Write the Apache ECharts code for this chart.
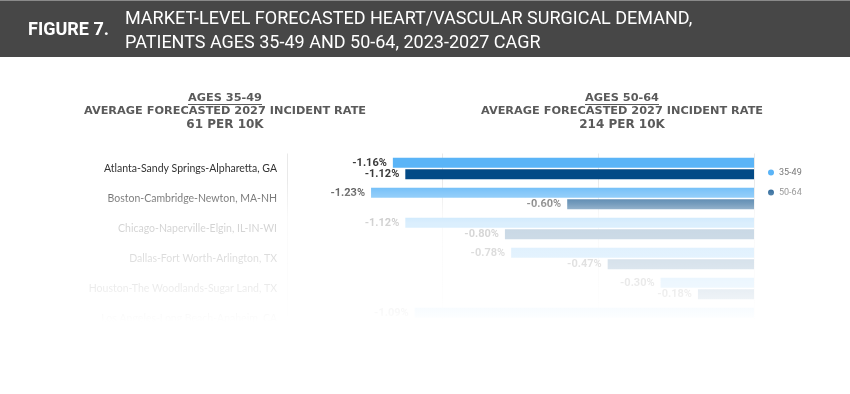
<!DOCTYPE html>
<html>
<head>
<meta charset="utf-8">
<script src="https://cdn.jsdelivr.net/npm/echarts@6/dist/echarts.min.js"></script>
<style>
html,body{margin:0;padding:0;background:#fff;}
#chart{width:850px;height:394px;}
</style>
</head>
<body>
<div id="chart"></div>
<script>
// ---- data ----
const categories = [
  'Atlanta-Sandy Springs-Alpharetta, GA',
  'Boston-Cambridge-Newton, MA-NH',
  'Chicago-Naperville-Elgin, IL-IN-WI',
  'Dallas-Fort Worth-Arlington, TX',
  'Houston-The Woodlands-Sugar Land, TX',
  'Los Angeles-Long Beach-Anaheim, CA'
];
const ages3549 = [-1.16, -1.23, -1.12, -0.78, -0.30, -1.09];
const ages5064 = [-1.12, -0.60, -0.80, -0.47, -0.18, null];
const seriesNames = ['35-49', '50-64'];
const headerLabel = 'FIGURE 7.';
const headerTitle = ['MARKET-LEVEL FORECASTED HEART/VASCULAR SURGICAL DEMAND,', 'PATIENTS AGES 35-49 AND 50-64, 2023-2027 CAGR'];
const panelLeft = ['AGES 35-49', 'AVERAGE FORECASTED 2027 INCIDENT RATE', '61 PER 10K'];
const panelRight = ['AGES 50-64', 'AVERAGE FORECASTED 2027 INCIDENT RATE', '214 PER 10K'];
const xTicks = {min: -1.5, max: 0, interval: 0.5};

const chart = echarts.init(document.getElementById('chart'), null, {renderer: 'canvas'});

function txt(text, x, y, font, fill, align) {
  return {
    type: 'text', z: 50,
    style: {text: text, x: x, y: y, font: font, fill: fill,
            textAlign: align || 'left', align: align || 'left',
            textVerticalAlign: 'middle', verticalAlign: 'middle'}
  };
}

const subFontA = 'bold 11.3px "DejaVu Sans"';
const subFontB = 'bold 11.3px "DejaVu Sans"';
const subFontC = 'bold 12px "DejaVu Sans"';
const subCol = '#5a5a5a';

const graphics = [
  {type: 'rect', z: 40, shape: {x: 0, y: 0, width: 850, height: 57}, style: {fill: '#474747'}},
  {type: 'rect', z: 41, shape: {x: 0, y: 0, width: 850, height: 1}, style: {fill: '#8a8a8a'}},
  txt(headerLabel, 28, 30, 'bold 18px Roboto', '#ffffff'),
  txt(headerTitle[0], 125, 19, '18px Roboto', '#ffffff'),
  txt(headerTitle[1], 125, 43, '18px Roboto', '#ffffff'),
  txt(panelLeft[0], 225, 98, subFontA, subCol, 'center'),
  txt(panelLeft[1], 225, 111, subFontB, subCol, 'center'),
  txt(panelLeft[2], 225, 125, subFontC, subCol, 'center'),
  txt(panelRight[0], 622, 98, subFontA, subCol, 'center'),
  txt(panelRight[1], 622, 111, subFontB, subCol, 'center'),
  txt(panelRight[2], 622, 125, subFontC, subCol, 'center'),
  {type: 'rect', z: 50, shape: {x: 188, y: 104, width: 74, height: 1}, style: {fill: subCol}},
  {type: 'rect', z: 50, shape: {x: 585, y: 104, width: 74, height: 1}, style: {fill: subCol}},
  // fade-out overlay
  {type: 'rect', z: 100, silent: true,
   shape: {x: 0, y: 180, width: 850, height: 214},
   style: {fill: new echarts.graphic.LinearGradient(0, 0, 0, 1, [
     {offset: 0, color: 'rgba(255,255,255,0)'},
     {offset: 13/214, color: 'rgba(255,255,255,0.28)'},
     {offset: 24/214, color: 'rgba(255,255,255,0.46)'},
     {offset: 35/214, color: 'rgba(255,255,255,0.70)'},
     {offset: 43/214, color: 'rgba(255,255,255,0.78)'},
     {offset: 60/214, color: 'rgba(255,255,255,0.80)'},
     {offset: 85/214, color: 'rgba(255,255,255,0.85)'},
     {offset: 110/214, color: 'rgba(255,255,255,0.91)'},
     {offset: 133/214, color: 'rgba(255,255,255,0.97)'},
     {offset: 142/214, color: 'rgba(255,255,255,1)'},
     {offset: 1, color: 'rgba(255,255,255,1)'}
   ])}}
];

const labelStyle = {
  show: true, position: 'left', distance: 6,
  fontFamily: 'Roboto', fontSize: 11, fontWeight: 'bold', color: '#3a3a3a',
  formatter: p => p.value == null ? '' : p.value.toFixed(2) + '%'
};

chart.setOption({
  animation: false,
  backgroundColor: '#ffffff',
  graphic: graphics,
  legend: {
    data: seriesNames,
    orient: 'vertical',
    left: 763, top: 163,
    itemWidth: 6, itemHeight: 6, itemGap: 11,
    icon: 'circle',
    textStyle: {color: '#777', fontSize: 9, fontFamily: 'Roboto'}
  },
  grid: {left: 287, right: 96, top: 153.5, bottom: 60.5, containLabel: false},
  xAxis: {
    type: 'value', min: xTicks.min, max: xTicks.max, interval: xTicks.interval,
    axisLabel: {show: false}, axisLine: {show: false}, axisTick: {show: false},
    splitLine: {show: true, lineStyle: {color: '#e9e9e9', width: 1}}
  },
  yAxis: {
    type: 'category', data: categories, inverse: true,
    axisLine: {show: false}, axisTick: {show: false},
    axisLabel: {margin: 10, fontSize: 10.5, fontFamily: 'Lato', color: '#333'}
  },
  series: [
    {name: seriesNames[0], type: 'bar', data: ages3549, barWidth: 10, barGap: '15%',
     itemStyle: {color: '#5ab4f7'}, label: labelStyle},
    {name: seriesNames[1], type: 'bar', data: ages5064, barWidth: 10, barGap: '15%',
     itemStyle: {color: '#034a86'}, label: labelStyle}
  ]
});
</script>
</body>
</html>
